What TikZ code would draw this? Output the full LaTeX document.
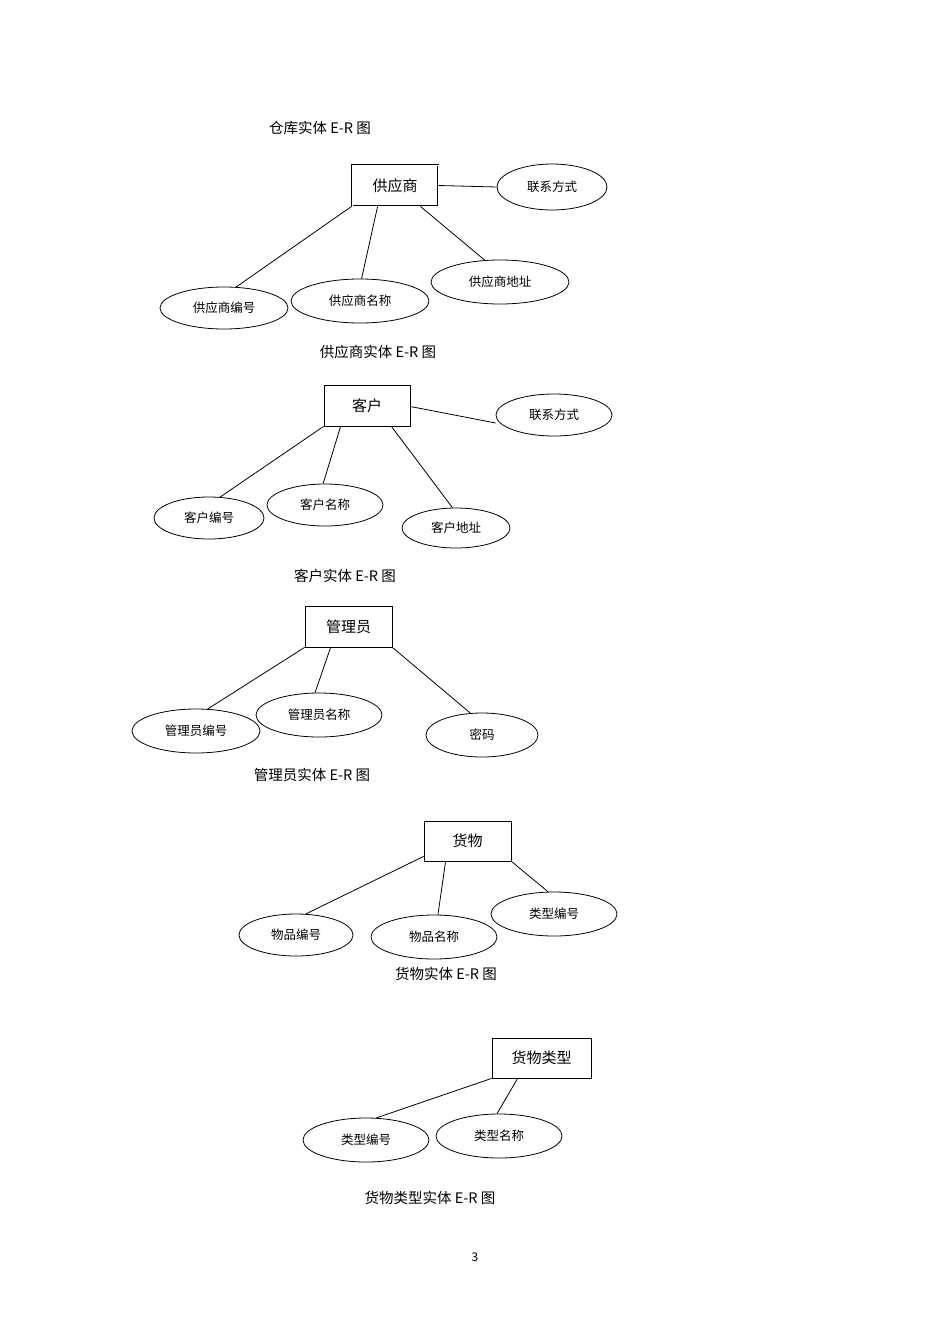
\documentclass[tikz,border=0pt]{standalone}
\usepackage{fontspec}
\setmainfont{Noto Sans CJK SC}
\usetikzlibrary{shapes.geometric}
\begin{document}
\begin{tikzpicture}[x=1pt,y=-1pt,
  ent/.style={draw,thick,rectangle,inner sep=0,font=\fontsize{15}{15}\selectfont},
  att/.style={draw,thick,ellipse,inner sep=0,font=\fontsize{12.5}{13}\selectfont},
  captxt/.style={font=\fontsize{14.5}{15}\selectfont},
  ln/.style={thick}]
\path[fill=white] (0,0) rectangle (950,1344);
\node[captxt] (t0) at (320,128) {仓库实体 E-R 图};
% supplier
\node[ent,draw,double,double distance=0.8pt,minimum width=86,minimum height=41] (s) at (395,185.5) {供应商};
\node[att,minimum width=110,minimum height=46] (s1) at (552,187) {联系方式};
\node[att,minimum width=128,minimum height=42] (s2) at (224,308) {供应商编号};
\node[att,minimum width=138,minimum height=44] (s3) at (360,301) {供应商名称};
\node[att,minimum width=138,minimum height=44] (s4) at (500,282) {供应商地址};
\draw[ln] (s.east) -- (s1.west);
\draw[ln] (s.south west) -- (s2.60);
\draw[ln] ([xshift=26]s.south west) -- (s3.86);
\draw[ln] ([xshift=-18]s.south east) -- (s4.125);
\node[captxt] (t1) at (378,352) {供应商实体 E-R 图};
% customer
\node[ent,minimum width=86,minimum height=41] (c) at (367,405.5) {客户};
\node[att,minimum width=116,minimum height=42] (c1) at (554,415) {联系方式};
\node[att,minimum width=110,minimum height=42] (c2) at (209,518) {客户编号};
\node[att,minimum width=116,minimum height=42] (c3) at (325,505) {客户名称};
\node[att,minimum width=108,minimum height=40] (c4) at (456,528) {客户地址};
\draw[ln] ([yshift=-1]c.east) -- ([yshift=-8]c1.west);
\draw[ln] (c.south west) -- (c2.62);
\draw[ln] ([xshift=17]c.south west) -- (c3.95);
\draw[ln] ([xshift=-19]c.south east) -- (c4.100);
\node[captxt] (t2) at (345,576) {客户实体 E-R 图};
% manager
\node[ent,minimum width=87,minimum height=41] (m) at (348.5,626.5) {管理员};
\node[att,minimum width=128,minimum height=44] (m1) at (196,731) {管理员编号};
\node[att,minimum width=126,minimum height=44] (m2) at (319,715) {管理员名称};
\node[att,minimum width=112,minimum height=44] (m3) at (482,735) {密码};
\draw[ln] (m.south west) -- (m1.62);
\draw[ln] ([xshift=26]m.south west) -- (m2.100);
\draw[ln] (m.south east) -- (m3.118);
\node[captxt] (t3) at (312,775) {管理员实体 E-R 图};
% goods
\node[ent,minimum width=87,minimum height=40] (g) at (467.5,841) {货物};
\node[att,minimum width=114,minimum height=42] (g1) at (296,935) {物品编号};
\node[att,minimum width=126,minimum height=44] (g2) at (434,937) {物品名称};
\node[att,minimum width=126,minimum height=44] (g3) at (554,914) {类型编号};
\draw[ln] ([yshift=5]g.south west) -- (g1.65);
\draw[ln] ([xshift=22]g.south west) -- (g2.80);
\draw[ln] (g.south east) -- (g3.105);
\node[captxt] (t4) at (446,974) {货物实体 E-R 图};
% type
\node[ent,minimum width=99,minimum height=40] (k) at (541.5,1058) {货物类型};
\node[att,minimum width=126,minimum height=44] (k1) at (366,1140) {类型编号};
\node[att,minimum width=126,minimum height=44] (k2) at (499,1136) {类型名称};
\draw[ln] (k.south west) -- (k1.65);
\draw[ln] ([xshift=26]k.south west) -- (k2.95);
\node[captxt] (t5) at (430,1198) {货物类型实体 E-R 图};
\node[font=\fontsize{12}{12}\selectfont] (pg) at (475,1257) {3};
\end{tikzpicture}
\end{document}
